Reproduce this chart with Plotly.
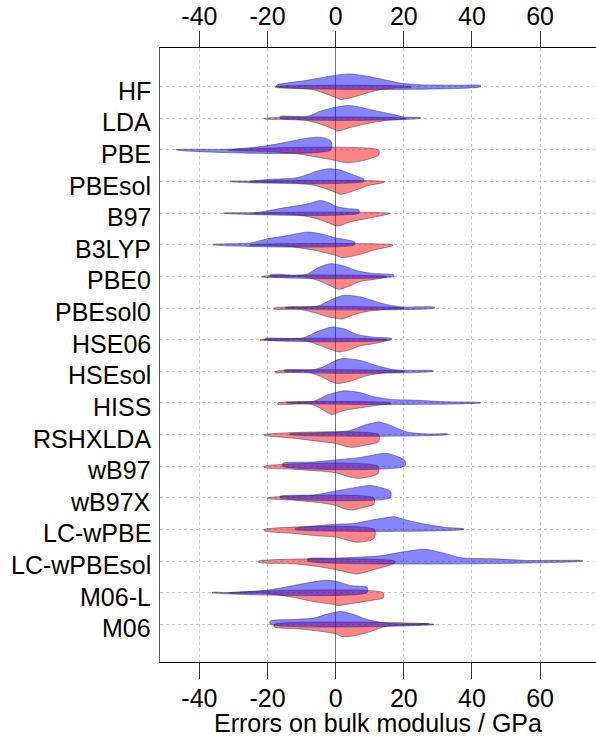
import plotly.graph_objects as go

methods = ["HF", "LDA", "PBE", "PBEsol", "B97", "B3LYP", "PBE0", "PBEsol0", "HSE06",
           "HSEsol", "HISS", "RSHXLDA", "wB97", "wB97X", "LC-wPBE", "LC-wPBEsol", "M06-L", "M06"]

x_ticks = [-40, -20, 0, 20, 40, 60]

# Density profiles (x error in GPa, relative density height), blue = upper half, red = lower half
HF_blue = [(-17.3, 0.12), (-8.4, 0.5), (0, 0.9), (4.3, 1.0), (9.2, 0.82), (15.1, 0.5), (19.0, 0.28),
           (22.9, 0.18), (26.9, 0.14), (36.7, 0.12), (42.5, 0.1)]
HF_red = [(-17.7, 0.05), (-10.4, 0.13), (-6.5, 0.23), (-2.5, 0.59), (0, 0.85), (1.4, 1.0), (5.3, 0.8),
          (9.2, 0.49), (13.1, 0.23), (17.1, 0.1), (22.2, 0.05)]
LDA_blue = [(-16.3, 0.15), (-8.4, 0.15), (-4.5, 0.56), (0, 0.87), (3.8, 1.0), (7.2, 0.87), (12.1, 0.56),
            (17.1, 0.3), (20.0, 0.1), (24.9, 0.05)]
LDA_red = [(-20.9, 0.05), (-10.4, 0.1), (-5.5, 0.36), (0, 0.92), (0.4, 1.0), (4.3, 0.72), (9.2, 0.41),
           (15.1, 0.15), (20.5, 0.03)]
PBE_blue = [(-46.9, 0.03), (-32.0, 0.05), (-24.1, 0.2), (-17.3, 0.46), (-12.4, 0.72), (-8.4, 0.92),
            (-5.5, 1.0), (-3.0, 0.92), (-1.4, 0.68)]
PBE_red = [(-31.5, 0.02), (-22.2, 0.1), (-12.4, 0.26), (-6.5, 0.51), (0, 0.82), (3.3, 1.0), (7.2, 0.87),
           (10.1, 0.67), (12.6, 0.4)]
PBEsol_blue = [(-31.0, 0.03), (-25.1, 0.05), (-19.2, 0.18), (-12.4, 0.26), (-9.4, 0.44), (-5.5, 0.82),
               (-2.1, 1.0), (1.4, 0.9), (4.8, 0.56), (8.2, 0.2)]
PBEsol_red = [(-25.1, 0.02), (-14.3, 0.08), (-6.5, 0.28), (-2.5, 0.59), (0, 0.85), (1.4, 1.0), (5.3, 0.72),
              (9.2, 0.33), (14.3, 0.05)]
B97_blue = [(-32.9, 0.02), (-24.1, 0.05), (-20.2, 0.18), (-14.3, 0.46), (-8.4, 0.72), (-4.5, 1.0),
            (-2.5, 0.87), (0.4, 0.51), (3.3, 0.36), (6.8, 0.26)]
B97_red = [(-24.1, 0.02), (-12.4, 0.1), (-6.5, 0.36), (-2.5, 0.72), (0, 0.97), (0.9, 1.0), (4.3, 0.67),
           (9.2, 0.41), (15.9, 0.03)]
B3LYP_blue = [(-36.1, 0.03), (-25.1, 0.15), (-20.2, 0.46), (-14.3, 0.72), (-9.4, 0.97), (-7.9, 1.0),
              (-4.5, 0.87), (0, 0.54), (5.6, 0.23)]
B3LYP_red = [(-25.1, 0.03), (-14.3, 0.1), (-6.5, 0.41), (0, 0.82), (1.9, 1.0), (7.2, 0.74), (11.2, 0.41),
             (16.8, 0.05)]
PBE0_blue = [(-19.2, 0.12), (-16.3, 0.18), (-12.4, 0.08), (-8.4, 0.18), (-5.5, 0.64), (-2.5, 0.95),
             (-1.1, 1.0), (2.4, 0.82), (6.3, 0.44), (10.2, 0.26), (15.1, 0.18), (17.1, 0.12)]
PBE0_red = [(-21.7, 0.05), (-9.4, 0.03), (-5.5, 0.28), (-1.6, 0.72), (0.9, 1.0), (4.3, 0.72), (7.3, 0.38),
            (11.2, 0.23), (14.9, 0.05)]
PBEsol0_blue = [(-14.8, 0.05), (-5.5, 0.15), (-1.6, 0.62), (2.4, 1.0), (7.3, 0.87), (11.2, 0.56),
                (15.1, 0.26), (20.0, 0.08), (24.3, 0.1), (29.0, 0.08)]
PBEsol0_red = [(-18.2, 0.08), (-10.4, 0.1), (-5.5, 0.41), (-2.5, 0.67), (0.4, 0.8), (1.9, 0.85),
               (5.3, 0.51), (9.2, 0.26), (15.1, 0.08), (20.0, 0.03)]
HSE06_blue = [(-20.7, 0.1), (-12.4, 0.08), (-9.4, 0.15), (-5.5, 0.62), (-1.6, 0.97), (-0.6, 1.0),
              (2.4, 0.85), (6.3, 0.41), (11.2, 0.2), (16.4, 0.1)]
HSE06_red = [(-22.2, 0.05), (-9.4, 0.05), (-5.5, 0.36), (-1.6, 0.74), (0.9, 0.95), (4.3, 0.77),
             (7.3, 0.46), (11.2, 0.31), (15.1, 0.05)]
HSEsol_blue = [(-15.1, 0.1), (-6.5, 0.13), (-3.5, 0.38), (0, 0.85), (1.9, 1.0), (7.3, 0.85), (12.1, 0.44),
               (17.1, 0.13), (23.0, 0.08), (28.6, 0.06)]
HSEsol_red = [(-17.7, 0.1), (-8.4, 0.05), (-4.5, 0.38), (-1.6, 0.77), (0.4, 0.95), (4.3, 0.77),
              (9.2, 0.33), (15.1, 0.08), (20.3, 0.03)]
HISS_blue = [(-14.3, 0.03), (-6.5, 0.13), (-2.5, 0.62), (0, 0.82), (2.8, 0.95), (7.3, 0.8), (11.2, 0.49),
             (16.1, 0.28), (22.0, 0.23), (31.8, 0.1), (42.5, 0.03)]
HISS_red = [(-17.0, 0.1), (-7.5, 0.08), (-4.5, 0.41), (-2.5, 0.74), (-1.1, 0.9), (2.4, 0.59), (7.3, 0.38),
            (12.1, 0.18), (16.1, 0.05)]
RSHXLDA_blue = [(-13.5, 0.05), (-6.5, 0.13), (0, 0.2), (4.3, 0.33), (9.2, 0.8), (12.1, 0.97), (12.6, 1.0),
                (16.1, 0.72), (21.0, 0.2), (26.9, 0.05), (32.9, 0.05)]
RSHXLDA_red = [(-21.0, 0.05), (-12.4, 0.28), (-4.5, 0.54), (0, 0.69), (3.3, 0.95), (4.8, 1.0),
               (8.2, 0.85), (12.6, 0.55)]
wB97_blue = [(-15.5, 0.23), (-6.5, 0.33), (0, 0.49), (7.3, 0.69), (13.1, 0.97), (15.1, 1.0), (18.0, 0.77),
             (20.3, 0.46)]
wB97_red = [(-21.0, 0.1), (-12.4, 0.23), (-4.5, 0.38), (0, 0.51), (4.3, 0.85), (6.8, 0.95), (10.2, 0.8),
            (12.4, 0.59)]
wB97X_blue = [(-16.3, 0.13), (-6.5, 0.23), (0, 0.54), (4.3, 0.74), (9.2, 0.95), (10.7, 0.95), (14.1, 0.74),
              (16.1, 0.49)]
wB97X_red = [(-20.0, 0.05), (-12.4, 0.18), (-4.5, 0.38), (0, 0.59), (2.4, 0.85), (4.8, 0.95), (8.2, 0.74),
             (11.2, 0.49)]
LCwPBE_blue = [(-11.9, 0.08), (0, 0.41), (5.3, 0.46), (11.2, 0.77), (16.1, 0.97), (17.1, 1.0),
               (21.0, 0.72), (26.9, 0.38), (32.7, 0.15), (37.6, 0.05)]
LCwPBE_red = [(-21.0, 0.1), (-12.4, 0.31), (-4.5, 0.51), (0, 0.59), (3.3, 0.82), (6.3, 1.0), (10.2, 0.85),
              (11.4, 0.64)]
LCwPBEsol_blue = [(-8.2, 0.18), (0, 0.23), (13.1, 0.41), (19.0, 0.69), (25.3, 0.92), (26.9, 0.9),
                  (31.8, 0.62), (36.7, 0.26), (46.5, 0.18), (56.3, 0.05), (72.5, 0.03)]
LCwPBEsol_red = [(-22.6, 0.1), (-12.4, 0.2), (-5.5, 0.41), (0, 0.67), (5.3, 0.97), (6.3, 1.0),
                 (11.2, 0.67), (17.3, 0.15)]
M06L_blue = [(-36.2, 0.03), (-31.0, 0.01), (-20.2, 0.2), (-12.4, 0.56), (-6.5, 0.85), (-3.0, 0.97),
             (0, 0.9), (4.3, 0.56), (9.2, 0.41)]
M06L_red = [(-31.2, 0.02), (-20.2, 0.05), (-12.4, 0.36), (-6.5, 0.69), (0, 0.95), (0.4, 1.0), (5.3, 0.82),
            (11.2, 0.56), (13.9, 0.41)]
M06_blue = [(-19.2, 0.26), (-12.4, 0.38), (-6.5, 0.49), (-2.5, 0.8), (1.4, 1.0), (5.3, 0.77), (9.2, 0.38),
            (15.1, 0.08), (22.9, 0.05), (27.4, 0.05)]
M06_red = [(-18.0, 0.2), (-10.4, 0.36), (-4.5, 0.54), (0, 0.74), (1.9, 0.95), (5.3, 0.9), (10.2, 0.56),
           (15.1, 0.13), (21.9, 0.05), (28.8, 0.03)]

blue_sets = [HF_blue, LDA_blue, PBE_blue, PBEsol_blue, B97_blue, B3LYP_blue, PBE0_blue, PBEsol0_blue,
             HSE06_blue, HSEsol_blue, HISS_blue, RSHXLDA_blue, wB97_blue, wB97X_blue, LCwPBE_blue,
             LCwPBEsol_blue, M06L_blue, M06_blue]
red_sets = [HF_red, LDA_red, PBE_red, PBEsol_red, B97_red, B3LYP_red, PBE0_red, PBEsol0_red,
            HSE06_red, HSEsol_red, HISS_red, RSHXLDA_red, wB97_red, wB97X_red, LCwPBE_red,
            LCwPBEsol_red, M06L_red, M06_red]

HALF = 0.405
FONT = "Liberation Sans, Arial, Helvetica, sans-serif"
FS = 25

fig = go.Figure()


def half(profile, pos, sign, fill, xref):
    xs = [p[0] for p in profile]
    hs = [p[1] for p in profile]
    px = [xs[0]] + xs + [xs[-1], xs[0]]
    py = [pos] + [pos + sign * HALF * h for h in hs] + [pos, pos]
    fig.add_trace(go.Scatter(x=px, y=py, mode="lines", fill="toself", fillcolor=fill,
                             line=dict(color="rgba(40,40,60,0.8)", width=0.6, shape="spline",
                                       smoothing=0.7),
                             xaxis=xref, hoverinfo="skip", showlegend=False))


for i, m in enumerate(methods):
    pos = i + 1
    half(red_sets[i], pos, +1, "rgba(255,0,0,0.48)", "x")
    half(blue_sets[i], pos, -1, "rgba(0,0,255,0.48)", "x2")

positions = list(range(1, len(methods) + 1))
annotations = [dict(text=m, xref="paper", yref="y", x=0, y=p, xanchor="right", yanchor="middle",
                    xshift=-7, yshift=-4, showarrow=False,
                    font=dict(family=FONT, size=FS, color="black"))
               for m, p in zip(methods, positions)]
annotations.append(dict(text="Errors on bulk modulus / GPa", xref="paper", yref="paper",
                        x=0.5, y=-0.1, xanchor="center", yanchor="middle", showarrow=False,
                        font=dict(family=FONT, size=FS, color="black")))

xr = [-51.57, 76.4]
axis_common = dict(range=xr, tickvals=x_ticks, ticktext=[str(v) for v in x_ticks], ticks="outside",
                   ticklen=16, tickwidth=1, tickcolor="#333", showline=True, linecolor="black",
                   linewidth=1, automargin=False,
                   tickfont=dict(family=FONT, size=FS, color="black"))

fig.update_layout(
    width=596, height=740,
    margin=dict(l=160, r=0, t=48, b=78, autoexpand=False),
    plot_bgcolor="white", paper_bgcolor="white",
    xaxis=dict(**axis_common, showgrid=True, gridcolor="#c8c8c8", griddash="dot", gridwidth=1,
               zeroline=True, zerolinecolor="#777", zerolinewidth=1, ticklabelstandoff=-2),
    xaxis2=dict(**axis_common, overlaying="x", side="top", matches="x", showgrid=False, zeroline=False,
                ticklabelstandoff=-4),
    yaxis=dict(range=[19.19, -0.224], tickvals=positions, showticklabels=False, showgrid=True,
               gridcolor="#c8c8c8", griddash="dot", gridwidth=1, zeroline=False, ticks="",
               showline=True, linecolor="#555", linewidth=1, automargin=False),
    annotations=annotations,
)

fig.write_html("out.html", config={"displayModeBar": False},
               post_script="document.body.style.margin='0';document.body.style.overflow='hidden';")
